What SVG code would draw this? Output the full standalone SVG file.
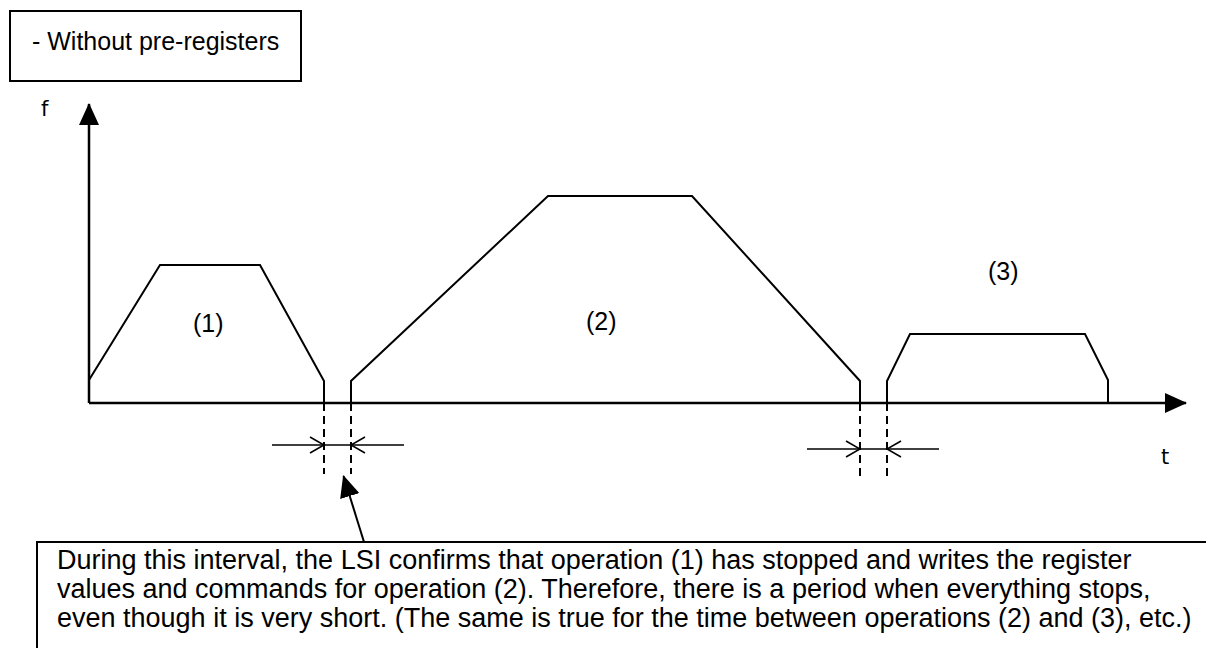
<svg xmlns="http://www.w3.org/2000/svg" width="1206" height="648" viewBox="0 0 1206 648">
<style>
.box{fill:#fff;stroke:#000;stroke-width:2}
.txt{font-family:"Liberation Sans",Arial,sans-serif;fill:#000}
.lbl{font-family:"DejaVu Sans",sans-serif;fill:#000}
.axis{stroke:#000;stroke-width:2.5;fill:none}
.prof{stroke:#000;stroke-width:2;fill:none;stroke-linejoin:miter}
.dash{stroke:#000;stroke-width:2;stroke-dasharray:8 5;fill:none}
.dim{stroke:#000;stroke-width:1.5;fill:none}
</style>
<defs>
<marker id="tri" markerUnits="userSpaceOnUse" markerWidth="22" markerHeight="20" refX="21" refY="10" orient="auto"><path d="M0,0 L22,10 L0,20 z" fill="#000"/></marker>
</defs>
<rect width="1206" height="648" fill="#fff"/>

<g id="title">
<rect class="box" x="10" y="11" width="291" height="70"/>
<text class="txt" x="32" y="50" font-size="25">- Without pre-registers</text>
</g>

<g id="axes">
<line class="axis" x1="89" y1="403" x2="89" y2="104" marker-end="url(#tri)"/>
<line class="axis" x1="89" y1="403" x2="1186" y2="403" marker-end="url(#tri)"/>
<text class="lbl" x="41" y="116" font-size="21">f</text>
<text class="lbl" x="1161" y="464" font-size="21">t</text>
</g>

<g id="op1">
<polyline class="prof" points="89,380 160,265 260,265 324,381 324,403"/>
<text class="txt" x="193" y="332" font-size="25">(1)</text>
</g>
<g id="op2">
<polyline class="prof" points="351,403 351,381 548,196 692,196 860,381 860,403"/>
<text class="txt" x="586" y="330" font-size="25">(2)</text>
</g>
<g id="op3">
<polyline class="prof" points="887,403 887,381 910,334 1085,334 1108,380 1108,403"/>
<text class="txt" x="988" y="280" font-size="25">(3)</text>
</g>

<g id="connectors">
<line class="dash" x1="324" y1="403" x2="324" y2="474"/>
<line class="dash" x1="351" y1="403" x2="351" y2="474"/>
<line class="dim" x1="272" y1="445" x2="404" y2="445"/>
<polyline class="dim" points="310,437 324,445 310,453"/>
<polyline class="dim" points="365,437 351,445 365,453"/>
<line class="dash" x1="860" y1="403" x2="860" y2="478"/>
<line class="dash" x1="887" y1="403" x2="887" y2="478"/>
<line class="dim" x1="807" y1="449" x2="939" y2="449"/>
<polyline class="dim" points="846,441 860,449 846,457"/>
<polyline class="dim" points="901,441 887,449 901,457"/>
<line stroke="#000" stroke-width="2" x1="364" y1="542" x2="343.5" y2="476" marker-end="url(#tri)"/>
</g>

<g id="note">
<path class="box" d="M1210,542 L37,542 L37,652"/>
<text class="txt" font-size="27">
<tspan x="57" y="569">During this interval, the LSI confirms that operation (1) has stopped and writes the register</tspan>
<tspan x="57" y="598">values and commands for operation (2). Therefore, there is a period when everything stops,</tspan>
<tspan x="57" y="627">even though it is very short. (The same is true for the time between operations (2) and (3), etc.)</tspan>
</text>
</g>
</svg>
